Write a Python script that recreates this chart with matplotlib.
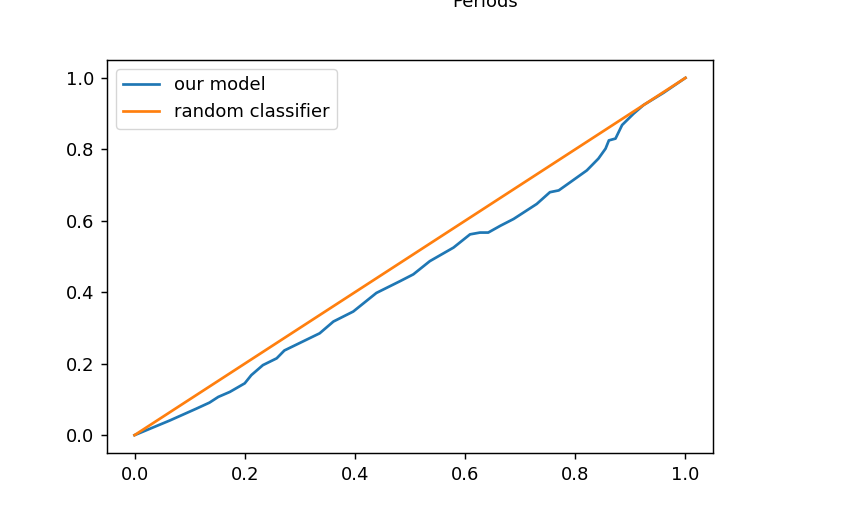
import matplotlib
matplotlib.use("Agg")
import matplotlib.pyplot as plt

# data
model_fpr = [0.0, 0.064, 0.112, 0.136, 0.152, 0.173, 0.200, 0.212, 0.233, 0.258,
             0.272, 0.336, 0.361, 0.397, 0.439, 0.482, 0.506, 0.536, 0.579,
             0.609, 0.627, 0.642, 0.664, 0.688, 0.730, 0.754, 0.770, 0.791,
             0.821, 0.842, 0.855, 0.861, 0.873, 0.885, 0.906, 0.924, 0.960, 1.0]
model_tpr = [0.0, 0.041, 0.074, 0.091, 0.107, 0.121, 0.145, 0.168, 0.196, 0.215,
             0.237, 0.285, 0.318, 0.346, 0.398, 0.431, 0.450, 0.487, 0.525,
             0.562, 0.567, 0.567, 0.586, 0.605, 0.647, 0.680, 0.685, 0.708,
             0.741, 0.774, 0.802, 0.825, 0.830, 0.868, 0.900, 0.924, 0.958, 1.0]
random_x = [0.0, 1.0]
random_y = [0.0, 1.0]

s = 1.3
plt.rcParams.update({
    'font.size': 10 * s,
    'axes.linewidth': 0.8 * s,
    'xtick.major.size': 3.5 * s,
    'ytick.major.size': 3.5 * s,
    'xtick.major.width': 0.8 * s,
    'ytick.major.width': 0.8 * s,
    'xtick.major.pad': 3.5 * s,
    'ytick.major.pad': 3.5 * s,
    'lines.linewidth': 1.5 * s,
})

fig = plt.figure(figsize=(8.46, 5.22), dpi=100)
ax = fig.add_axes([107/846, 1-453/522, (713-107)/846, (453-60)/522])
ax.plot(model_fpr, model_tpr, color='#1f77b4', label='our model')
ax.plot(random_x, random_y, color='#ff7f0e', label='random classifier')
ax.legend(loc='upper left')
fig.text(485/846, 1-7/522, 'Periods', ha='center', va='baseline', fontsize=10 * s)
fig.savefig('out.png', dpi=100)
